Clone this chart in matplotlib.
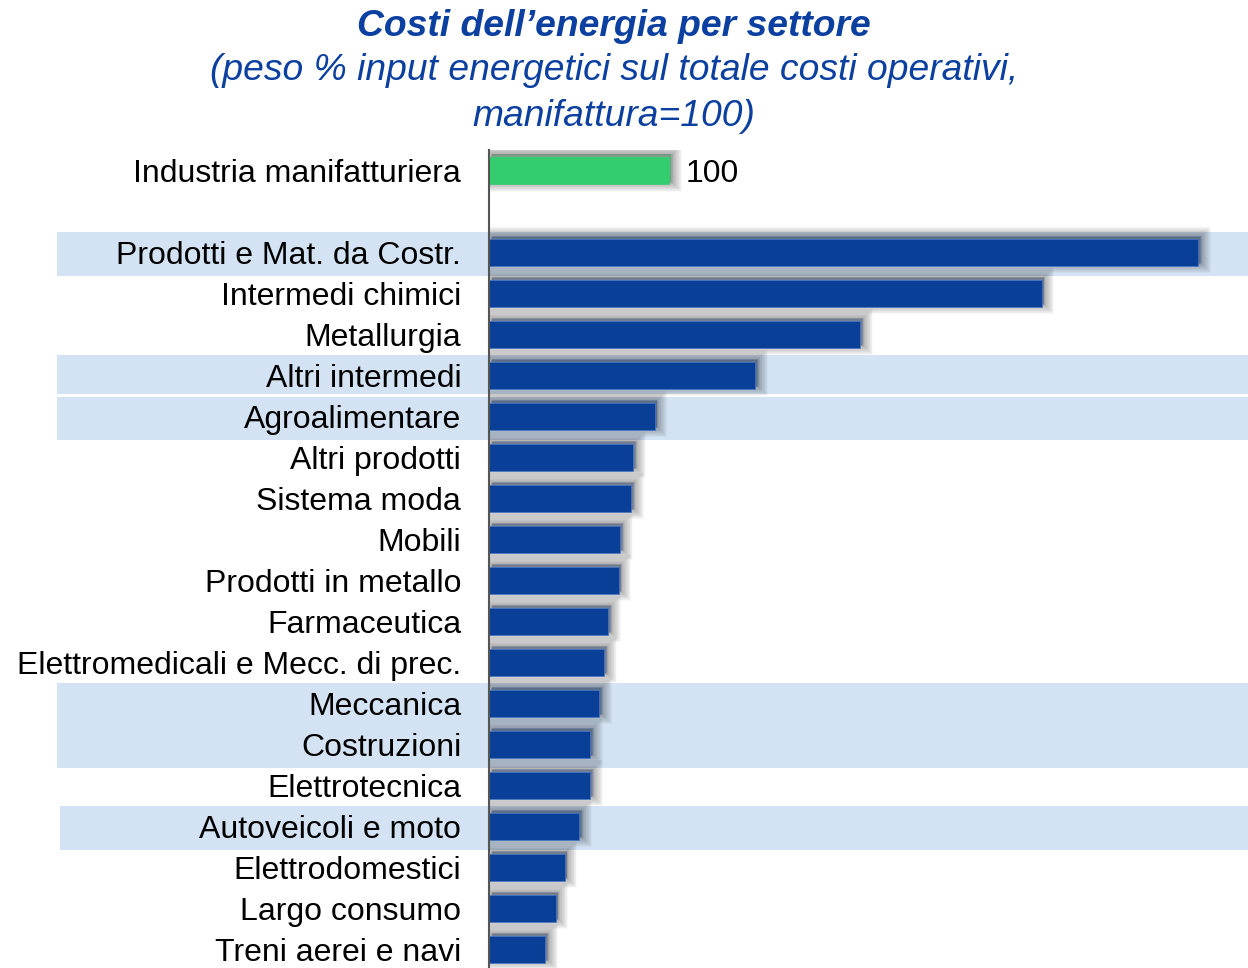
import matplotlib
matplotlib.use("Agg")
import matplotlib.pyplot as plt
import matplotlib.patheffects as pe
from matplotlib.transforms import blended_transform_factory

plt.rcParams['font.family'] = ['Liberation Sans', 'DejaVu Sans']

# data
sectors = ["Industria manifatturiera", "",
           "Prodotti e Mat. da Costr.", "Intermedi chimici", "Metallurgia",
           "Altri intermedi", "Agroalimentare", "Altri prodotti", "Sistema moda",
           "Mobili", "Prodotti in metallo", "Farmaceutica",
           "Elettromedicali e Mecc. di prec.", "Meccanica", "Costruzioni",
           "Elettrotecnica", "Autoveicoli e moto", "Elettrodomestici",
           "Largo consumo", "Treni aerei e navi"]
values = [100, None, 394, 307, 206, 148, 92, 80, 79, 73, 72, 66, 64, 61, 56, 56, 50, 42, 37, 31]
# highlighted rows (first, last) in row index
bands = [(2, 2), (5, 5), (6, 6), (13, 14), (16, 16)]

blue = '#0A3F98'
green = '#33CC6E'
band_col = '#D3E3F3'
title_col = '#0B3FA0'

fig = plt.figure(figsize=(12.48, 9.68), dpi=100)
ax = fig.add_axes([489 / 1248, 0.0, 1 - 489 / 1248, 1 - 150 / 968])

pos = list(range(len(sectors)))
ax.set_ylim(19.46, -0.5)
ax.set_xlim(0, (1248 - 489) / 1.8)

# light blue bands behind rows, starting left of the labels
tr = blended_transform_factory(fig.transFigure, ax.transData)
for k, (a, b) in enumerate(bands):
    top = a - 0.5
    bottom = b + 0.58
    if k + 1 < len(bands) and bands[k + 1][0] == b + 1:
        bottom = b + 0.45
    if k > 0 and bands[k - 1][1] == a - 1:
        top = a - 0.47
    x0 = 57 / 1248 if a != 16 else 60 / 1248
    ax.add_patch(plt.Rectangle((x0, top), 1 - x0, bottom - top,
                               transform=tr, facecolor=band_col, edgecolor='none',
                               clip_on=False, zorder=0))

# soft shadow, up and to the right
shadow = [pe.Stroke(offset=(2, 2), linewidth=w, foreground='k', alpha=0.022)
          for w in range(14, 0, -1)]
shadow += [pe.SimplePatchShadow(offset=(1.5, 1.5), shadow_rgbFace='k', alpha=0.12), pe.Normal()]

for p, v in zip(pos, values):
    if v is None:
        continue
    col = green if p == 0 else blue
    h = 0.68 if p == 0 else 0.66
    bar = ax.barh(p, v, height=h, color=col, edgecolor='#4A78C8' if p else green,
                  linewidth=0.5, zorder=3)
    for r in bar:
        r.set_path_effects(shadow)

ax.text(values[0] + 9, 0, "100", va='center_baseline', ha='left', fontsize=23, color='black')

ax.set_yticks(pos)
ax.set_yticklabels(sectors, fontsize=23)
ax.tick_params(axis='y', length=0, pad=20)
ax.set_xticks([])
for s in ['top', 'right', 'bottom']:
    ax.spines[s].set_visible(False)
ax.spines['left'].set_color('#555555')
ax.spines['left'].set_linewidth(1.5)
ax.spines['left'].set_zorder(5)
ax.patch.set_alpha(0)

fig.text(614 / 1248, 1 - 26 / 968, "Costi dell\u2019energia per settore", ha='center', va='center',
         fontsize=26.8, fontweight='bold', fontstyle='italic', color=title_col)
fig.text(614 / 1248, 1 - 71 / 968, "(peso % input energetici sul totale costi operativi,",
         ha='center', va='center', fontsize=26.8, fontstyle='italic', color=title_col)
fig.text(614 / 1248, 1 - 116 / 968, "manifattura=100)", ha='center', va='center',
         fontsize=26.8, fontstyle='italic', color=title_col)

fig.savefig("out.png", dpi=100)
